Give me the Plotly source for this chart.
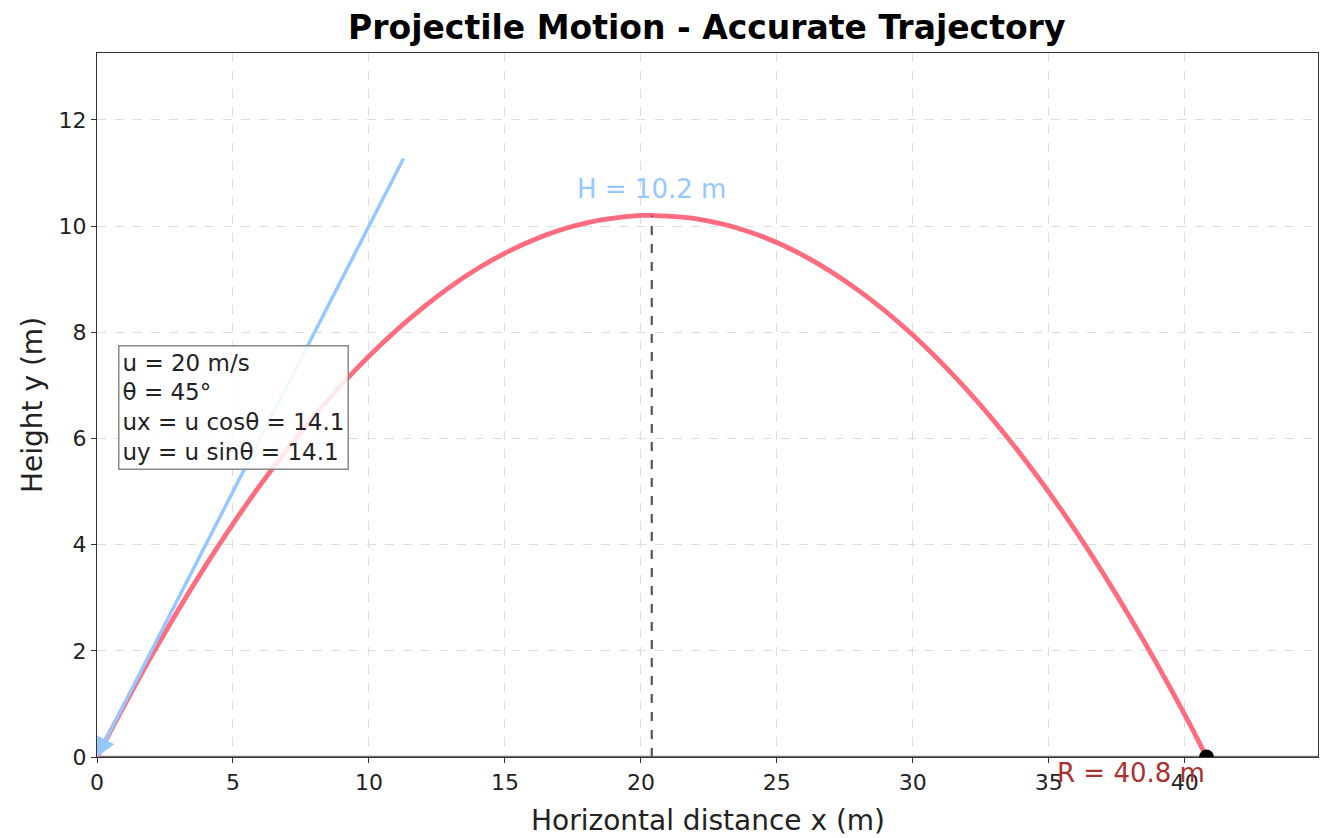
import plotly.graph_objects as go

# ---- data ----
traj_x = [0, 2, 4, 6, 8, 10, 12, 14, 16, 18, 20, 20.4, 22, 24, 26, 28, 30, 32, 34, 36, 38, 40, 40.8]
traj_y = [0, 1.90, 3.61, 5.12, 6.43, 7.55, 8.47, 9.20, 9.73, 10.06, 10.20, 10.20, 10.14, 9.89,
          9.44, 8.79, 7.95, 6.91, 5.68, 4.25, 2.62, 0.80, 0.0]
peak_x = [20.4, 20.4]
peak_y = [0, 10.2]
land_x = [40.8]
land_y = [0]
arrow_tail = [11.3, 11.3]
arrow_head = [0, 0]
H_label = "H = 10.2 m"
R_label = "R = 40.8 m"
info_lines = ["u = 20 m/s", "θ = 45°", "ux = u cosθ = 14.1", "uy = u sinθ = 14.1"]
x_ticks = [0, 5, 10, 15, 20, 25, 30, 35, 40]
y_ticks = [0, 2, 4, 6, 8, 10, 12]
x_range = [0, 44.9]
y_range = [0, 13.26]

RED = "#ff6b7f"
BLUE = "#96c8ff"
FONT = "DejaVu Sans"

fig = go.Figure()

# baseline at y = 0
fig.add_trace(go.Scatter(x=x_range, y=[0, 0], mode="lines",
                         line=dict(color="#777777", width=2.5), hoverinfo="skip", showlegend=False))

fig.add_trace(go.Scatter(x=traj_x, y=traj_y, mode="lines", line_shape="spline",
                         line=dict(color=RED, width=4.8), showlegend=False))

fig.add_trace(go.Scatter(x=peak_x, y=peak_y, mode="lines",
                         line=dict(color="#555555", width=2.2, dash="dash"), showlegend=False))

fig.add_trace(go.Scatter(x=land_x, y=land_y, mode="markers",
                         marker=dict(color="black", size=15), showlegend=False))

annotations = []
# launch velocity arrow
annotations.append(dict(x=arrow_head[0], y=arrow_head[1], ax=arrow_tail[0], ay=arrow_tail[1],
                        xref="x", yref="y", axref="x", ayref="y", text="", showarrow=True,
                        arrowhead=2, arrowsize=1.1, arrowwidth=3.5, arrowcolor=BLUE))
# H label
annotations.append(dict(x=peak_x[1], y=peak_y[1] + 0.5, xref="x", yref="y", text=H_label,
                        showarrow=False, font=dict(family=FONT, size=26, color=BLUE),
                        xanchor="center", yanchor="middle"))
# R label (just below the x axis)
annotations.append(dict(x=land_x[0], y=0, xref="x", yref="paper", yshift=-16, text=R_label,
                        showarrow=False, font=dict(family=FONT, size=26, color="#a83232"),
                        xanchor="right", yanchor="middle"))
# info box
annotations.append(dict(x=0.77, y=7.76, xref="x", yref="y", text="<br>".join(info_lines),
                        showarrow=False, align="left", xanchor="left", yanchor="top",
                        font=dict(family=FONT, size=23, color="#222222"),
                        bgcolor="rgba(255,255,255,0.85)", bordercolor="#888888",
                        borderwidth=1.5, borderpad=3))
# axis titles
annotations.append(dict(x=0.5, y=0, xref="paper", yref="paper", yshift=-63,
                        text="Horizontal distance x (m)", showarrow=False,
                        font=dict(family=FONT, size=28, color="#222222"),
                        xanchor="center", yanchor="middle"))
annotations.append(dict(x=0, y=0.5, xref="paper", yref="paper", xshift=-65,
                        text="Height y (m)", showarrow=False, textangle=-90,
                        font=dict(family=FONT, size=28, color="#222222"),
                        xanchor="center", yanchor="middle"))

axis_common = dict(showline=True, linecolor="#333333", linewidth=1.3, mirror=True,
                   ticks="outside", ticklen=5, tickwidth=1.2, tickcolor="#333333",
                   showgrid=True, gridcolor="#dddddd", gridwidth=1, griddash="dash",
                   zeroline=False, tickfont=dict(family=FONT, size=22, color="#222222"))

fig.update_layout(
    width=1322, height=838, autosize=False,
    margin=dict(l=97, r=4, t=53, b=81),
    plot_bgcolor="white", paper_bgcolor="white",
    title=dict(text="<b>Projectile Motion - Accurate Trajectory</b>", x=0.5346, xanchor="center",
               y=1 - 27 / 838, yanchor="middle", yref="container",
               font=dict(family=FONT, size=33, color="black")),
    xaxis=dict(range=x_range, tickvals=x_ticks, **axis_common),
    yaxis=dict(range=y_range, tickvals=y_ticks, **axis_common),
    annotations=annotations,
)

fig.write_html("out.html", config={"responsive": False, "displayModeBar": False},
               post_script="document.body.style.margin='0';document.body.style.overflow='hidden';")
